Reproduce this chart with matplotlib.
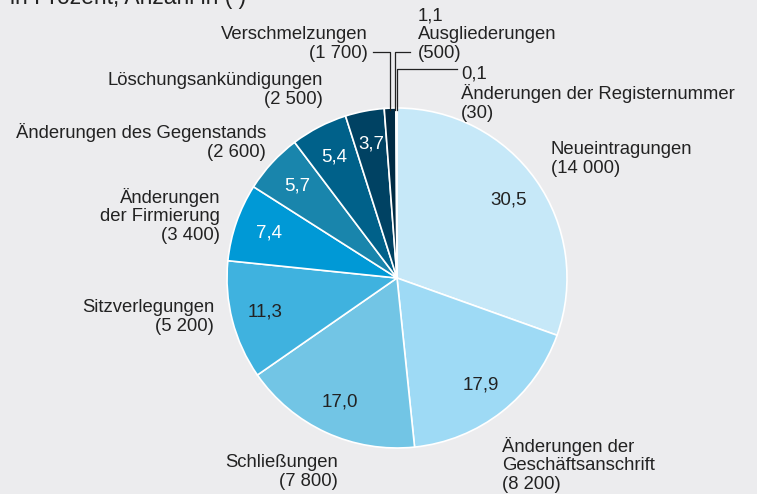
import numpy as np
import matplotlib
matplotlib.use("Agg")
import matplotlib.pyplot as plt

plt.rcParams['font.family'] = ['Liberation Sans', 'DejaVu Sans']

# Shares in percent (clockwise from 12 o'clock) and counts in brackets
shares = [30.5, 17.9, 17.0, 11.3, 7.4, 5.7, 5.4, 3.7, 1.1, 0.1]
share_labels = ["30,5", "17,9", "17,0", "11,3", "7,4", "5,7", "5,4", "3,7", "1,1", "0,1"]
names = ["Neueintragungen", "Änderungen der\nGeschäftsanschrift", "Schließungen",
         "Sitzverlegungen", "Änderungen\nder Firmierung", "Änderungen des Gegenstands",
         "Löschungsankündigungen", "Verschmelzungen", "Ausgliederungen",
         "Änderungen der Registernummer"]
counts = ["(14 000)", "(8 200)", "(7 800)", "(5 200)", "(3 400)", "(2 600)",
          "(2 500)", "(1 700)", "(500)", "(30)"]
colors = ["#c6e8f8", "#9edaf5", "#72c5e5", "#3fb2df", "#0099d6", "#1985ac",
          "#00618a", "#004263", "#002b44", "#001e33"]
bg = "#ececee"

W, H = 757, 494
fig = plt.figure(figsize=(W / 100, H / 100), dpi=100, facecolor=bg)
ax = fig.add_axes([0, 0, 1, 1])
ax.set_facecolor(bg)

cx, cy, R = 397, H - 278, 170
wedges, _ = ax.pie(shares, colors=colors, startangle=90, counterclock=False,
                   center=(cx, cy), radius=R, frame=True,
                   wedgeprops=dict(edgecolor="white", linewidth=1.2))
ax.set_xlim(0, W)
ax.set_ylim(0, H)
ax.set_aspect("equal")
ax.axis("off")

# values inside the wedges (the two smallest are written outside)
for i, w in enumerate(wedges[:8]):
    mid = np.deg2rad((w.theta1 + w.theta2) / 2)
    r = 0.8 * R
    tc = "white" if i >= 4 else "#222222"
    ax.text(cx + r * np.cos(mid), cy + r * np.sin(mid), share_labels[i],
            ha="center", va="center", fontsize=13.5, color=tc)

fs = 13.3
tcol = "#222222"
def label(x, y, txt, ha):
    ax.text(x, H - y, txt, ha=ha, va="baseline", fontsize=fs, color=tcol,
            linespacing=1.12, multialignment=ha)

# outer labels (positions in pixels from top-left, baseline of last line)
label(551, 173, names[0] + "\n" + counts[0], "left")
label(502, 489, names[1] + "\n" + counts[1], "left")
label(338, 486, names[2] + "\n" + counts[2], "right")
label(214, 331, names[3] + "\n" + counts[3], "right")
label(220, 240, names[4] + "\n" + counts[4], "right")
label(266, 157, names[5] + "\n" + counts[5], "right")
label(323, 104, names[6] + "\n" + counts[6], "right")
label(368, 58, names[7] + "\n" + counts[7], "right")
label(418, 58, share_labels[8] + "\n" + names[8] + "\n" + counts[8], "left")
label(461, 118, share_labels[9] + "\n" + names[9] + "\n" + counts[9], "left")

# leader lines for the small wedges
lk = dict(color="#222222", linewidth=0.9)
ax.plot([373, 389.5, 389.5], [H - 52, H - 52, H - 110], **lk)
ax.plot([410, 395, 395], [H - 52, H - 52, H - 110], **lk)
ax.plot([457, 396.8, 396.8], [H - 69, H - 69, H - 110], **lk)

# subtitle, cut off at the top edge as in the source
ax.text(10, H - 4, "in Prozent, Anzahl in ( )", ha="left", va="baseline",
        fontsize=16.5, color=tcol)

fig.savefig("out.png", dpi=100, facecolor=bg)
